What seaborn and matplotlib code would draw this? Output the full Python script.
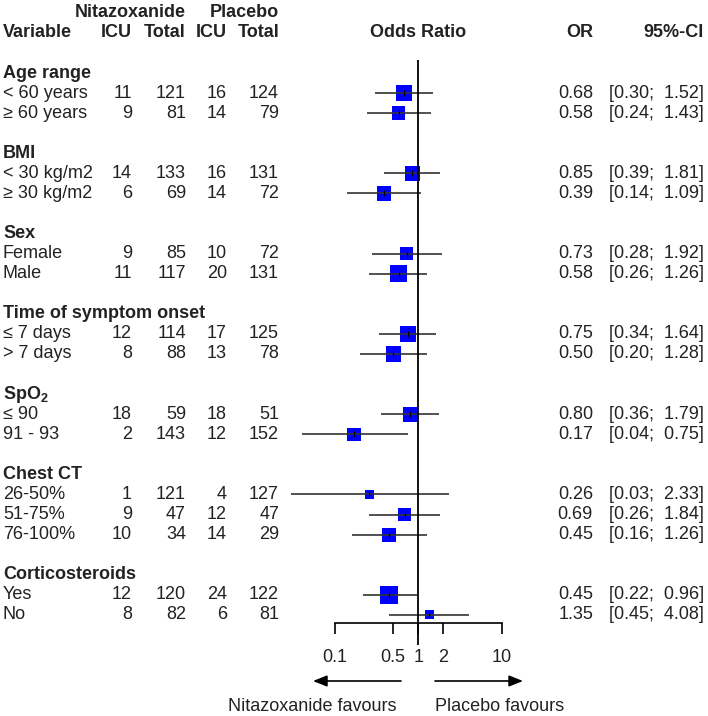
import numpy as np
import pandas as pd
import matplotlib
matplotlib.use("Agg")
import matplotlib.pyplot as plt
import seaborn as sns

# ---------------- data ----------------
groups = ["Age range", "BMI", "Sex", "Time of symptom onset", "SpO2", "Chest CT", "Corticosteroids"]
group_of = [0, 0, 1, 1, 2, 2, 3, 3, 4, 4, 5, 5, 5, 6, 6]
labels = ["< 60 years", "≥ 60 years", "< 30 kg/m2", "≥ 30 kg/m2", "Female", "Male",
          "≤ 7 days", "> 7 days", "≤ 90", "91 - 93", "26-50%", "51-75%", "76-100%",
          "Yes", "No"]
nit_icu = [11, 9, 14, 6, 9, 11, 12, 8, 18, 2, 1, 9, 10, 12, 8]
nit_total = [121, 81, 133, 69, 85, 117, 114, 88, 59, 143, 121, 47, 34, 120, 82]
pla_icu = [16, 14, 16, 14, 10, 20, 17, 13, 18, 12, 4, 12, 14, 24, 6]
pla_total = [124, 79, 131, 72, 72, 131, 125, 78, 51, 152, 127, 47, 29, 122, 81]
odds_ratio = [0.68, 0.58, 0.85, 0.39, 0.73, 0.58, 0.75, 0.50, 0.80, 0.17, 0.26, 0.69, 0.45, 0.45, 1.35]
ci_low = [0.30, 0.24, 0.39, 0.14, 0.28, 0.26, 0.34, 0.20, 0.36, 0.04, 0.03, 0.26, 0.16, 0.22, 0.45]
ci_high = [1.52, 1.43, 1.81, 1.09, 1.92, 1.26, 1.64, 1.28, 1.79, 0.75, 2.33, 1.84, 1.26, 0.96, 4.08]
# relative weights
weight = [2.6, 1.8, 2.3, 2.0, 1.7, 2.9, 2.7, 2.3, 2.3, 1.8, 0.9, 1.6, 1.9, 3.3, 0.8]
x_ticks = [0.1, 0.5, 1, 2, 10]
x_tick_labels = ["0.1", "0.5", "1", "2", "10"]

# ---------------- layout ----------------
sns.set_style("white")
plt.rcParams["font.family"] = ["Liberation Sans", "DejaVu Sans"]
plt.rcParams["mathtext.fontset"] = "custom"
plt.rcParams["mathtext.rm"] = "Liberation Sans"
plt.rcParams["mathtext.bf"] = "Liberation Sans:bold"

W, H = 708, 716
fig = plt.figure(figsize=(W / 100, H / 100), dpi=100)
FS = 13

# row positions: y_px = 73 + ROW * idx
ROW = 20.07
Y0 = 73.0
ytop = -Y0 / ROW
ybot = (H - Y0) / ROW

# compute row index for each group header / subgroup
group_row = []
sub_row = []
idx = 0
for g in range(len(groups)):
    group_row.append(idx)
    idx += 1
    for i, gg in enumerate(group_of):
        if gg == g:
            sub_row.append(idx)
            idx += 1
    idx += 1
last_row = sub_row[-1]

# text layer in pixel x
tax = fig.add_axes([0, 0, 1, 1])
tax.set_xlim(0, W)
tax.set_ylim(ybot, ytop)
tax.axis("off")
tax.set_zorder(0)

# forest layer (log scale)
XC, DEC = 418.3, 83.5
px_l, px_r = 280, 540
fax = fig.add_axes([px_l / W, 0, (px_r - px_l) / W, 1])
fax.set_zorder(1)
fax.patch.set_alpha(0)
fax.set_xscale("log")
fax.set_xlim(10 ** ((px_l - XC) / DEC), 10 ** ((px_r - XC) / DEC))
fax.set_ylim(ybot, ytop)

df = pd.DataFrame({"OR": odds_ratio, "row": sub_row, "w": weight})
k = 52.6
sns.scatterplot(data=df, x="OR", y="row", size="w", sizes=(k * min(weight), k * max(weight)),
                size_norm=(min(weight), max(weight)), marker="s", color="#0000FF",
                linewidth=0, legend=False, ax=fax, zorder=2)
fax.hlines(sub_row, ci_low, ci_high, color="#333333", lw=1.2, zorder=3)
fax.scatter(odds_ratio, sub_row, marker="|", s=22, color="black", linewidths=0.8, zorder=4)

axis_y = (623 - Y0) / ROW
fax.vlines(1, (60 - Y0) / ROW, (645 - Y0) / ROW, color="black", lw=1.3, zorder=3)

for s in ["top", "left", "right"]:
    fax.spines[s].set_visible(False)
fax.spines["bottom"].set_position(("data", axis_y))
fax.spines["bottom"].set_bounds(0.1, 10)
fax.spines["bottom"].set_color("black")
fax.spines["bottom"].set_linewidth(1.2)
fax.set_xticks(x_ticks)
fax.set_xticklabels(x_tick_labels)
fax.minorticks_off()
fax.tick_params(axis="x", which="major", direction="out", length=7.9, width=1.2,
                color="black", pad=11, labelsize=FS, labelcolor="#222222", bottom=True)
fax.set_yticks([])
fax.set_xlabel("")
fax.set_ylabel("")

# ---------------- text ----------------
tc = "#222222"
col_nicu, col_ntot, col_picu, col_ptot = 132, 186, 227, 279
col_or, col_ci = 593, 704

def T(x, y, s, ha="left", bold=False, **kw):
    tax.text(x, y, s, ha=ha, va="center", fontsize=FS, color=tc,
             fontweight="bold" if bold else "normal", **kw)

T(col_ntot, -3, "Nitazoxanide", ha="right", bold=True)
T(col_ptot, -3, "Placebo", ha="right", bold=True)
T(3, -2, "Variable", bold=True)
T(col_nicu, -2, "ICU", ha="right", bold=True)
T(col_ntot, -2, "Total", ha="right", bold=True)
T(col_picu, -2, "ICU", ha="right", bold=True)
T(col_ptot, -2, "Total", ha="right", bold=True)
T(418, -2, "Odds Ratio", ha="center", bold=True)
T(col_or, -2, "OR", ha="right", bold=True)
T(col_ci, -2, "95%-CI", ha="right", bold=True)

for g, name in enumerate(groups):
    if name == "SpO2":
        name = r"SpO$_{\mathbf{2}}$"
    T(3, group_row[g], name, bold=True)

for i, r in enumerate(sub_row):
    T(3, r, labels[i])
    T(col_nicu, r, str(nit_icu[i]), ha="right")
    T(col_ntot, r, str(nit_total[i]), ha="right")
    T(col_picu, r, str(pla_icu[i]), ha="right")
    T(col_ptot, r, str(pla_total[i]), ha="right")
    T(col_or, r, f"{odds_ratio[i]:.2f}", ha="right")
    T(col_ci, r, f"[{ci_low[i]:.2f};  {ci_high[i]:.2f}]", ha="right")

# arrows and favour labels
ay = (681 - Y0) / ROW
ty = (706 - Y0) / ROW
arrowprops = dict(arrowstyle="-|>,head_length=0.7,head_width=0.28", color="black",
                  lw=1.2, mutation_scale=12, shrinkA=0, shrinkB=0)
tax.annotate("", xy=(313, ay), xytext=(401, ay), arrowprops=arrowprops)
tax.annotate("", xy=(523, ay), xytext=(435, ay), arrowprops=arrowprops)
T(397, ty, "Nitazoxanide favours", ha="right")
T(435, ty, "Placebo favours", ha="left")

fig.savefig("out.png", dpi=100, facecolor="white")
